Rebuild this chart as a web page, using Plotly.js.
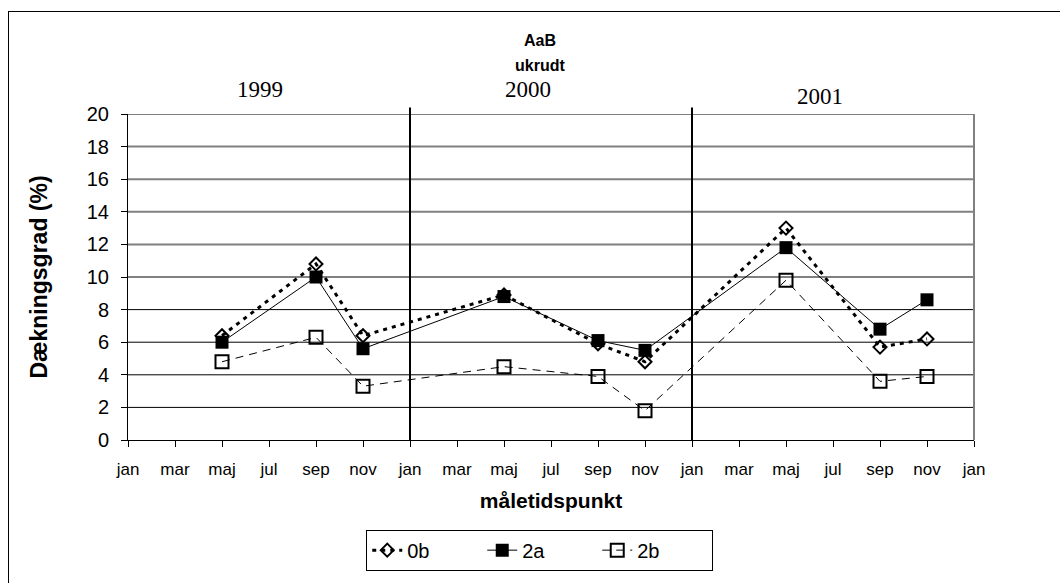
<!DOCTYPE html>
<html><head><meta charset="utf-8">
<script src="https://cdn.plot.ly/plotly-3.0.1.min.js"></script>
<style>
html,body{margin:0;padding:0;background:#fff;}
#wrap{position:relative;width:1060px;height:583px;overflow:hidden;}
#frame{position:absolute;left:8px;top:11px;width:1100px;height:650px;border:1px solid #000;box-sizing:border-box;pointer-events:none;z-index:5;}
#chart{position:absolute;left:0;top:0;width:1060px;height:583px;}
</style></head>
<body><div id="wrap"><div id="chart"></div><div id="frame"></div></div>
<script>
// Month tick labels (Jan 1999 .. Jan 2002, every second month)
const monthLabels = ["jan","mar","maj","jul","sep","nov","jan","mar","maj","jul","sep","nov","jan","mar","maj","jul","sep","nov","jan"];
// Measurement times as index into monthLabels
const sampleIdx = [2,4,5,8,10,11,14,16,17];
const s0b = [6.4,10.8,6.4,8.9,5.9,4.8,13.0,5.7,6.2];
const s2a = [6.0,10.0,5.6,8.8,6.1,5.5,11.8,6.8,8.6];
const s2b = [4.8,6.3,3.3,4.5,3.9,1.8,9.8,3.6,3.9];
const seriesNames = ["0b","2a","2b"];
const yearLabels = ["1999","2000","2001"];
const titleLines = ["AaB","ukrudt"];
const yearBoundaries = [6,12];
const yTicks = [0,2,4,6,8,10,12,14,16,18,20];

const SANS = "Liberation Sans, Arial, sans-serif";
const SERIF = "Liberation Serif, Times New Roman, serif";

const traces = [
  {x: sampleIdx, y: s0b, name: seriesNames[0], mode: "lines+markers", type: "scatter",
   line: {color: "#000", width: 3, dash: "4px,5px"},
   marker: {symbol: "diamond-open", size: 10, color: "#000", line: {width: 2, color: "#000"}}},
  {x: sampleIdx, y: s2a, name: seriesNames[1], mode: "lines+markers", type: "scatter",
   line: {color: "#000", width: 1},
   marker: {symbol: "square", size: 13, color: "#000"}},
  {x: sampleIdx, y: s2b, name: seriesNames[2], mode: "lines+markers", type: "scatter",
   line: {color: "#000", width: 1, dash: "8px,6px"},
   marker: {symbol: "square-open", size: 13, color: "#000", line: {width: 2, color: "#000"}}}
];

const shapes = [];
yTicks.forEach(v => {
  if (v === 0) return;
  shapes.push({type: "line", xref: "paper", yref: "y", x0: 0, x1: 1, y0: v, y1: v,
    line: {color: v >= 10 ? "#808080" : "#000", width: v >= 10 ? 2 : 1}, layer: "below"});
});
shapes.push({type: "line", xref: "paper", yref: "paper", x0: 1, x1: 1, y0: 0, y1: 1, line: {color: "#808080", width: 2}, layer: "below"});
yearBoundaries.forEach(b => {
  shapes.push({type: "line", xref: "x", yref: "paper", x0: b, x1: b, y0: 0, y1: 1.02, line: {color: "#000", width: 2}});
});

const yearPos = [{x: 2.8, y: 1.075}, {x: 8.5, y: 1.075}, {x: 14.73, y: 1.053}];
const annotations = yearLabels.map((t, i) => ({
  text: t, xref: "x", yref: "paper", x: yearPos[i].x, y: yearPos[i].y, showarrow: false,
  font: {family: SERIF, size: 23, color: "#000"}, xanchor: "center", yanchor: "middle"
}));
const titleY = [1.225, 1.149];
titleLines.forEach((t, i) => annotations.push({
  text: "<b>" + t + "</b>", xref: "paper", yref: "paper", x: 0.4867, y: titleY[i], showarrow: false,
  font: {family: SANS, size: 16, color: "#000"}, xanchor: "center", yanchor: "middle"
}));

const layout = {
  width: 1060, height: 583,
  margin: {l: 128, r: 86, t: 114, b: 140},
  paper_bgcolor: "rgba(0,0,0,0)", plot_bgcolor: "#fff",
  xaxis: {range: [0, 18], tickvals: monthLabels.map((_, i) => i), ticktext: monthLabels,
    showgrid: false, zeroline: false, showline: true, linecolor: "#000", linewidth: 1,
    ticks: "outside", ticklen: 6, tickcolor: "#000", ticklabelstandoff: 8,
    tickfont: {family: SANS, size: 17, color: "#000"},
    title: {text: "<b>måletidspunkt</b>", font: {family: SANS, size: 21, color: "#000"}, standoff: 14}},
  yaxis: {range: [0, 20], tickvals: yTicks, showgrid: false, zeroline: false,
    showline: true, linecolor: "#000", linewidth: 1, ticks: "outside", ticklen: 6, tickcolor: "#000",
    ticklabelstandoff: 8,
    tickfont: {family: SANS, size: 20, color: "#000"},
    title: {text: "<b>Dækningsgrad (%)</b>", font: {family: SANS, size: 23, color: "#000"}, standoff: 32}},
  showlegend: true,
  legend: {orientation: "h", x: 0.4867, xanchor: "center", y: -0.275, yanchor: "top",
    bordercolor: "#000", borderwidth: 1, font: {family: SANS, size: 20, color: "#000"},
    entrywidth: 70, tracegroupgap: 0},
  shapes: shapes, annotations: annotations
};

Plotly.newPlot("chart", traces, layout, {displayModeBar: false, staticPlot: true});
</script></body></html>
